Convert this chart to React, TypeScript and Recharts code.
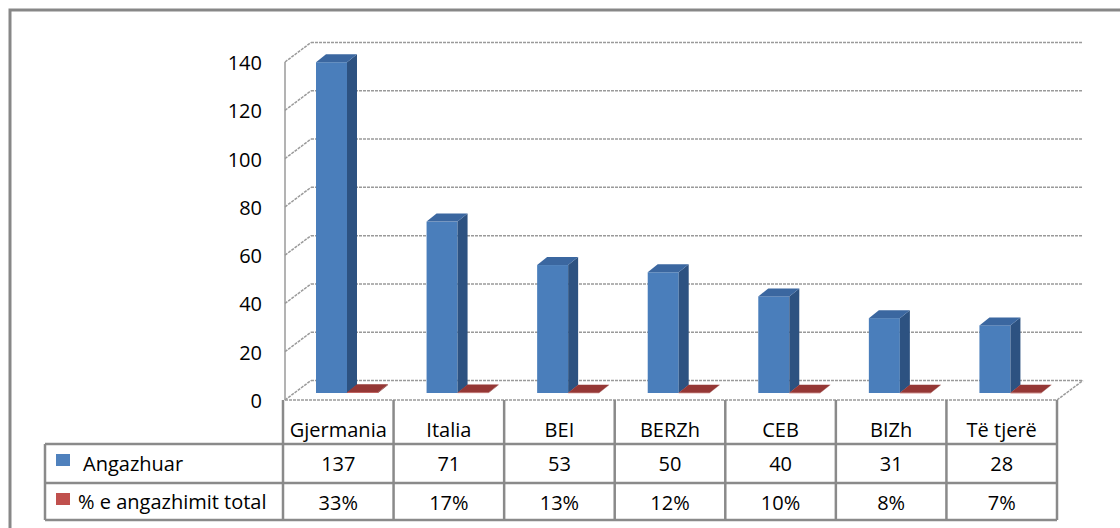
import React from "react";
import { BarChart, Bar, XAxis, YAxis, CartesianGrid } from "recharts";

const categories = ["Gjermania", "Italia", "BEI", "BERZh", "CEB", "BIZh", "Të tjerë"];
const engaged = [137, 71, 53, 50, 40, 31, 28];
const shares = [0.33, 0.17, 0.13, 0.12, 0.1, 0.08, 0.07];
const yTicks = [0, 20, 40, 60, 80, 100, 120, 140];
const seriesNames = ["Angazhuar", "% e angazhimit total"];

const data = categories.map((name, i) => ({ name, engaged: engaged[i], share: shares[i] }));

const W = 1120;
const H = 528;
const LEFT = 283;
const RIGHT = 1057;
const TOP = 55;
const BOTTOM = 393;
const FONT = "'Open Sans', sans-serif";
const LINE = "#8a8a8a";
const GRID = "#9a9a9a";

// 3D look of the Excel chart
const SHIFT = 9; // bars sit a bit right of the category centre
const DX = 10; // bar depth
const DY = 8;
const WALL_DX = 26; // front -> back wall
const FRONT_DY = 7; // front edge is below the bar baseline
const BACK_DY = -12.5;

function Box3D(props: any) {
  const { x, y, width, height, front, top, side } = props;
  if (x == null || y == null) return null;
  const x0 = x + SHIFT;
  const x1 = x0 + width;
  const yb = y + height;
  return (
    <g>
      <rect x={x0} y={y} width={width} height={Math.max(height, 0.5)} fill={front} />
      <polygon points={`${x1},${yb} ${x1 + DX},${yb - DY} ${x1 + DX},${y - DY} ${x1},${y}`} fill={side} />
      <polygon points={`${x0},${y} ${x1},${y} ${x1 + DX},${y - DY} ${x0 + DX},${y - DY}`} fill={top} />
    </g>
  );
}

function WallLine(props: any) {
  const { x1, x2, y1 } = props;
  const fy = y1 + FRONT_DY;
  const by = y1 + BACK_DY;
  return (
    <g stroke={GRID} strokeWidth={1.5} strokeDasharray="3 1">
      <line x1={x1 + 2} y1={fy} x2={x1 + 2 + WALL_DX} y2={by} />
      <line x1={x1 + 2 + WALL_DX} y1={by} x2={x2 + WALL_DX} y2={by} />
    </g>
  );
}

function YTick(props: any) {
  const { y, payload } = props;
  return (
    <text x={262} y={y + 15} textAnchor="end" fontFamily={FONT} fontSize={20} fill="#000">
      {payload.value}
    </text>
  );
}

function TableTick(props: any) {
  const { x, payload } = props;
  const i = categories.indexOf(payload.value);
  return (
    <g fontFamily={FONT} fontSize={20} fill="#000" textAnchor="middle">
      <text x={x} y={437}>{categories[i]}</text>
      <text x={x} y={471}>{engaged[i]}</text>
      <text x={x} y={510}>{Math.round(shares[i] * 100) + "%"}</text>
    </g>
  );
}

function Overlay() {
  const colW = (RIGHT - LEFT) / categories.length;
  const cols = Array.from({ length: categories.length + 1 }, (_, k) => LEFT + k * colW);
  return (
    <svg width={W} height={H} style={{ position: "absolute", left: 0, top: 0, pointerEvents: "none" }}>
      <rect x={10} y={10} width={1300} height={700} fill="none" stroke="#878787" strokeWidth={3} />
      {/* left wall edge and floor */}
      <line x1={LEFT + 2} y1={TOP + FRONT_DY} x2={LEFT + 2} y2={BOTTOM + FRONT_DY} stroke={GRID} strokeWidth={1.5} />
      <g stroke={GRID} strokeWidth={1.5} strokeDasharray="3 1">
        <line x1={LEFT + 2} y1={BOTTOM + FRONT_DY} x2={RIGHT} y2={BOTTOM + FRONT_DY} />
        <line x1={RIGHT} y1={BOTTOM + FRONT_DY} x2={RIGHT + WALL_DX} y2={BOTTOM + BACK_DY} />
      </g>
      {/* data table grid */}
      <g stroke={LINE} strokeWidth={2.5}>
        <line x1={45} y1={444} x2={RIGHT} y2={444} />
        <line x1={45} y1={483} x2={RIGHT} y2={483} />
        <line x1={45} y1={520} x2={RIGHT} y2={520} />
        <line x1={45} y1={444} x2={45} y2={520} />
        {cols.map((cx, k) => (
          <line key={k} x1={cx} y1={BOTTOM + FRONT_DY} x2={cx} y2={520} />
        ))}
      </g>
      <rect x={56} y={454} width={14} height={12} fill="#4F81BD" />
      <rect x={56} y={493} width={14} height={12} fill="#C0504D" />
      <g fontFamily={FONT} fontSize={20} fill="#000">
        <text x={83} y={471}>{seriesNames[0]}</text>
        <text x={78} y={509}>{seriesNames[1]}</text>
      </g>
    </svg>
  );
}

export default function App() {
  return (
    <div style={{ position: "absolute", left: 0, top: 0, width: W, height: H, background: "#fff" }}>
      <BarChart
        width={W}
        height={H}
        data={data}
        margin={{ top: TOP, right: W - RIGHT, bottom: 10, left: 0 }}
        barSize={31}
        barGap={0}
      >
        <CartesianGrid vertical={false} horizontal={(p: any) => <WallLine key={p.key ?? p.index} {...p} />} />
        <XAxis
          dataKey="name"
          interval={0}
          axisLine={false}
          tickLine={false}
          height={H - BOTTOM - 10}
          tick={<TableTick />}
        />
        <YAxis
          domain={[0, 140]}
          ticks={yTicks}
          width={LEFT}
          axisLine={false}
          tickLine={false}
          tick={<YTick />}
        />
        <Bar
          dataKey="engaged"
          name={seriesNames[0]}
          isAnimationActive={false}
          shape={(p: any) => <Box3D {...p} front="#4A7EBB" top="#3B67A0" side="#2D5281" />}
        />
        <Bar
          dataKey="share"
          name={seriesNames[1]}
          isAnimationActive={false}
          shape={(p: any) => <Box3D {...p} front="#C0504D" top="#953735" side="#7A2E2C" />}
        />
      </BarChart>
      <Overlay />
    </div>
  );
}
